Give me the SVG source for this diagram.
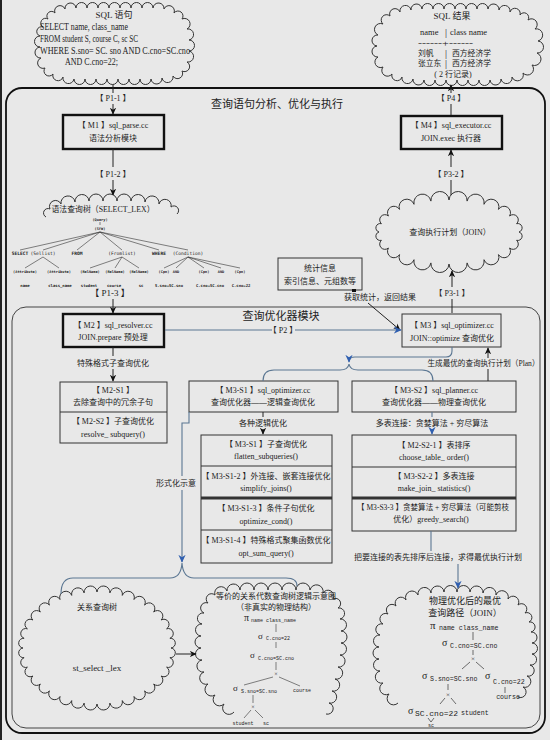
<svg xmlns="http://www.w3.org/2000/svg" width="550" height="740" viewBox="0 0 550 740" font-size="8">
<defs>
<style>
.t{font-family:"Liberation Serif","Noto Sans CJK SC",serif;fill:#222}
.m{text-anchor:middle}
.bx{fill:#e8e8e8;stroke:#333;stroke-width:1}
.bk{fill:#e8e8e8;stroke:#111;stroke-width:2.4}
.cl{fill:#e8e8e8;stroke:#333;stroke-width:1}
.op{fill:none;stroke:#333;stroke-width:1}
.ln{fill:none;stroke:#222;stroke-width:1}
.bl{fill:none;stroke:#5a7692;stroke-width:1.1}
.tk{font-family:"DejaVu Sans Mono",monospace;font-weight:bold;fill:#222;text-anchor:middle}
.sg{font-family:"Liberation Serif",serif;fill:#222}
.sb{font-family:"Liberation Mono",monospace;fill:#222}
</style>
<marker id="ak" viewBox="0 0 10 10" refX="9" refY="5" markerWidth="7" markerHeight="7" markerUnits="userSpaceOnUse" orient="auto"><path d="M0 0.5L10 5L0 9.5L3 5Z" fill="#111"/></marker>
<marker id="ab" viewBox="0 0 10 10" refX="9" refY="5" markerWidth="8" markerHeight="8" markerUnits="userSpaceOnUse" orient="auto"><path d="M0 0.5L10 5L0 9.5L3 5Z" fill="#2f5fb0"/></marker>
</defs>
<rect x="0" y="0" width="550" height="740" fill="#e8e8e8"/>
<line x1="1" y1="0" x2="1" y2="740" stroke="#222" stroke-width="2"/>

<g id="main-frame">
<rect x="6" y="88" width="539" height="645" rx="16" fill="none" stroke="#111" stroke-width="1.8"/>
<text class="t m" x="277" y="108" font-size="11">查询语句分析、优化与执行</text>
</g>

<g id="optimizer-frame">
<rect x="12" y="307" width="528" height="421" rx="14" fill="none" stroke="#444" stroke-width="1"/>
<text class="t m" x="281" y="320" font-size="11">查询优化器模块</text>
</g>

<g id="sql-input">
<path class="cl" d="M48 19A1 1 0 0 1 55 13A1 1 0 0 1 65 9A1 1 0 0 1 76 8A1 1 0 0 1 87 8A1 1 0 0 1 98 8A1 1 0 0 1 109 8A1 1 0 0 1 120 8A1 1 0 0 1 131 8A1 1 0 0 1 142 8A1 1 0 0 1 153 8A1 1 0 0 1 164 9A1 1 0 0 1 174 13A1 1 0 0 1 182 19A1 1 0 0 1 187 29A1 1 0 0 1 189 40A1 1 0 0 1 189 51A1 1 0 0 1 187 62A1 1 0 0 1 182 71A1 1 0 0 1 173 76A1 1 0 0 1 162 78A1 1 0 0 1 151 79A1 1 0 0 1 140 79A1 1 0 0 1 129 79A1 1 0 0 1 118 79A1 1 0 0 1 107 79A1 1 0 0 1 96 79A1 1 0 0 1 85 79A1 1 0 0 1 74 79A1 1 0 0 1 63 77A1 1 0 0 1 53 74A1 1 0 0 1 45 68A1 1 0 0 1 41 58A1 1 0 0 1 40 47A1 1 0 0 1 40 36A1 1 0 0 1 43 27A1 1 0 0 1 48 19Z"/>
<text class="t m" x="114" y="18" font-size="9">SQL 语句</text>
<text class="t" x="40" y="30" font-size="9.5" textLength="88" lengthAdjust="spacingAndGlyphs">SELECT name, class_name</text>
<text class="t" x="40" y="42" font-size="9.5" textLength="98" lengthAdjust="spacingAndGlyphs">FROM student S, course C, sc SC</text>
<text class="t" x="40" y="54" font-size="9.5" textLength="150" lengthAdjust="spacingAndGlyphs">WHERE S.sno= SC. sno AND C.cno=SC.cno</text>
<text class="t" x="65" y="65" font-size="9.5" textLength="53" lengthAdjust="spacingAndGlyphs">AND C.cno=22;</text>
</g>

<g id="sql-result">
<path class="cl" d="M390 16A1 1 0 0 1 400 12A1 1 0 0 1 411 10A1 1 0 0 1 422 9A1 1 0 0 1 433 9A1 1 0 0 1 444 9A1 1 0 0 1 455 9A1 1 0 0 1 466 9A1 1 0 0 1 477 9A1 1 0 0 1 488 9A1 1 0 0 1 499 10A1 1 0 0 1 510 12A1 1 0 0 1 520 15A1 1 0 0 1 528 20A1 1 0 0 1 535 29A1 1 0 0 1 538 41A1 1 0 0 1 537 53A1 1 0 0 1 532 65A1 1 0 0 1 523 73A1 1 0 0 1 512 77A1 1 0 0 1 501 79A1 1 0 0 1 490 80A1 1 0 0 1 479 80A1 1 0 0 1 468 80A1 1 0 0 1 457 80A1 1 0 0 1 446 80A1 1 0 0 1 435 80A1 1 0 0 1 424 80A1 1 0 0 1 413 79A1 1 0 0 1 402 77A1 1 0 0 1 392 74A1 1 0 0 1 383 67A1 1 0 0 1 378 57A1 1 0 0 1 377 46A1 1 0 0 1 378 35A1 1 0 0 1 383 24A1 1 0 0 1 390 16Z"/>
<text class="t m" x="452" y="19" font-size="9">SQL 结果</text>
<text class="t" x="420" y="35" font-size="8.5">name</text>
<text class="t" x="445" y="36" font-size="10">|</text>
<text class="t" x="450" y="35" font-size="8.5">class  name</text>
<text class="t" x="418" y="46" font-size="8.5" textLength="55" lengthAdjust="spacingAndGlyphs">------+------</text>
<text class="t" x="418" y="56" font-size="7.8">刘帆</text>
<text class="t" x="445" y="57" font-size="10">|</text>
<text class="t" x="452" y="56" font-size="7.8">西方经济学</text>
<text class="t" x="418" y="66" font-size="7.8">张立东</text>
<text class="t" x="445" y="67" font-size="10">|</text>
<text class="t" x="452" y="66" font-size="7.8">西方经济学</text>
<text class="t m" x="453" y="77" font-size="8">( 2 行记录)</text>
</g>

<g id="m1">
<rect class="bk" x="63" y="115" width="101" height="34"/>
<text class="t m" x="113" y="128">【 M1 】sql_parse.cc</text>
<text class="t m" x="113" y="141">语法分析模块</text>
</g>

<g id="m4">
<rect class="bk" x="401" y="116" width="101" height="33"/>
<text class="t m" x="451" y="128">【 M4 】sql_executor.cc</text>
<text class="t m" x="451" y="141">JOIN.exec 执行器</text>
</g>

<g id="parse-tree">
<path class="op" d="M46 217A1 1 0 0 1 50 209A1 1 0 0 1 61 204A1 1 0 0 1 75 202A1 1 0 0 1 89 201A1 1 0 0 1 103 201A1 1 0 0 1 117 201A1 1 0 0 1 131 201A1 1 0 0 1 145 202A1 1 0 0 1 159 204A1 1 0 0 1 171 207A1 1 0 0 1 177 214"/>
<text class="t m" x="103" y="212" font-size="8.5" textLength="103" lengthAdjust="spacingAndGlyphs">语法查询树（SELECT_LEX）</text>
<g stroke="#333" stroke-width="0.6" fill="none">
<path d="M100 222V225"/>
<path d="M100 232L20 250M100 232L43 250M100 232L77 250M100 232L122 250M100 232L159 250M100 232L188 250"/>
<path d="M43 257L25 268M43 257L59 268M122 257L90 268M122 257L115 268M122 257L139 268M188 257L164 268M188 257L176 268M188 257L204 268M188 257L221 268M188 257L240 268"/>
</g>
<g class="tk" font-size="3.6" font-weight="normal">
<text x="100" y="221">(Query)</text>
<text x="100" y="230">(SFW)</text>
<text x="25" y="273">(Attribute)</text>
<text x="59" y="273">(Attribute)</text>
<text x="90" y="273">(RelName)</text>
<text x="115" y="273">(RelName)</text>
<text x="139" y="273">(RelName)</text>
<text x="164" y="273">(Cpn)</text>
<text x="176" y="273">AND</text>
<text x="204" y="273">(Cpn)</text>
<text x="221" y="273">AND</text>
<text x="240" y="273">(Cpn)</text>
</g>
<g class="tk" font-size="4.6">
<text x="20" y="255">SELECT</text>
<text x="43" y="255" font-weight="normal">(Sellist)</text>
<text x="77" y="255">FROM</text>
<text x="122" y="255" font-weight="normal">(Fromlist)</text>
<text x="159" y="255">WHERE</text>
<text x="188" y="255" font-weight="normal">(Condition)</text>
</g>
<g class="tk" font-size="3.9">
<text x="25" y="287">name</text>
<text x="60" y="287">class_name</text>
<text x="89" y="287">student</text>
<text x="114" y="287">course</text>
<text x="141" y="287">sc</text>
<text x="169" y="287">S.sno=SC.sno</text>
<text x="210" y="287">C.cno=SC.cno</text>
<text x="241" y="287">C.cno=22</text>
</g>
</g>

<g id="plan-cloud">
<path class="cl" d="M519 232A1 1 0 0 1 516.6 240.3A1 1 0 0 1 509.6 248A1 1 0 0 1 498.5 254.6A1 1 0 0 1 484 259.7A1 1 0 0 1 467.1 262.9A1 1 0 0 1 449 264A1 1 0 0 1 430.9 262.9A1 1 0 0 1 414 259.7A1 1 0 0 1 399.5 254.6A1 1 0 0 1 388.4 248A1 1 0 0 1 381.4 240.3A1 1 0 0 1 379 232A1 1 0 0 1 381.4 223.7A1 1 0 0 1 388.4 216A1 1 0 0 1 399.5 209.4A1 1 0 0 1 414 204.3A1 1 0 0 1 430.9 201.1A1 1 0 0 1 449 200A1 1 0 0 1 467.1 201.1A1 1 0 0 1 484 204.3A1 1 0 0 1 498.5 209.4A1 1 0 0 1 509.6 216A1 1 0 0 1 516.6 223.7A1 1 0 0 1 519 232Z"/>
<text class="t m" x="450" y="235">查询执行计划（JOIN）</text>
</g>

<g id="stats">
<rect class="bx" x="278" y="258" width="84" height="32"/>
<text class="t m" x="320" y="271">统计信息</text>
<text class="t m" x="320" y="284">索引信息、元组数等</text>
</g>

<g id="m2">
<rect class="bk" x="63" y="314" width="101" height="33"/>
<text class="t m" x="113" y="328">【 M2 】sql_resolver.cc</text>
<text class="t m" x="113" y="340">JOIN.prepare 预处理</text>
</g>

<g id="m3">
<rect class="bx" x="402" y="314" width="99" height="33" stroke-width="1.3"/>
<text class="t m" x="452" y="328">【 M3 】sql_optimizer.cc</text>
<text class="t m" x="452" y="341">JOIN::optimize 查询优化</text>
</g>

<g id="m2-s">
<rect class="bx" x="60" y="382" width="107" height="61"/>
<line x1="60" y1="412" x2="167" y2="412" stroke="#333"/>
<text class="t m" x="113" y="393">【 M2-S1 】</text>
<text class="t m" x="113" y="405">去除查询中的冗余子句</text>
<text class="t m" x="113" y="424">【 M2-S2 】子查询优化</text>
<text class="t m" x="113" y="437">resolve_ subquery()</text>
</g>

<g id="m3-s1">
<rect class="bx" x="189" y="381" width="149" height="31"/>
<text class="t m" x="263" y="393">【 M3-S1 】sql_optimizer.cc</text>
<text class="t m" x="263" y="405">查询优化器——逻辑查询优化</text>
</g>

<g id="m3-s2">
<rect class="bx" x="352" y="381" width="164" height="31"/>
<text class="t m" x="434" y="393">【 M3-S2 】sql_planner.cc</text>
<text class="t m" x="434" y="405">查询优化器——物理查询优化</text>
</g>

<g id="m3-s1-list">
<rect class="bx" x="201" y="435" width="131" height="128"/>
<line x1="201" y1="466" x2="332" y2="466" stroke="#333"/>
<rect x="201" y="496.5" width="131" height="3" fill="#333"/>
<line x1="201" y1="530" x2="332" y2="530" stroke="#333"/>
<text class="t m" x="266" y="447">【 M3-S1 】子查询优化</text>
<text class="t m" x="266" y="459">flatten_subqueries()</text>
<text class="t m" x="266" y="479">【 M3-S1-2 】外连接、嵌套连接优化</text>
<text class="t m" x="266" y="491">simplify_joins()</text>
<text class="t m" x="266" y="511">【 M3-S1-3 】条件子句优化</text>
<text class="t m" x="266" y="524">optimize_cond()</text>
<text class="t m" x="266" y="543">【 M3-S1-4 】特殊格式聚集函数优化</text>
<text class="t m" x="266" y="556">opt_sum_query()</text>
</g>

<g id="m3-s2-list">
<rect class="bx" x="352" y="435" width="164" height="96"/>
<line x1="352" y1="467" x2="516" y2="467" stroke="#333"/>
<rect x="352" y="496.5" width="164" height="3" fill="#333"/>
<text class="t m" x="434" y="448">【 M2-S2-1 】表排序</text>
<text class="t m" x="434" y="460">choose_table_ order()</text>
<text class="t m" x="434" y="479">【 M3-S2-2 】多表连接</text>
<text class="t m" x="434" y="491">make_join_ statistics()</text>
<text class="t m" x="433" y="510" textLength="152" lengthAdjust="spacingAndGlyphs">【 M3-S3-3 】贪婪算法 + 穷尽算法（可能剪枝</text>
<text class="t m" x="431" y="522">优化）greedy_search()</text>
</g>

<g id="rel-tree">
<path class="cl" d="M171 648A1 1 0 0 1 169.9 657.7A1 1 0 0 1 166.6 667.2A1 1 0 0 1 161.1 676A1 1 0 0 1 153.7 684A1 1 0 0 1 144.6 690.9A1 1 0 0 1 134 696.5A1 1 0 0 1 122.3 700.6A1 1 0 0 1 109.9 703.1A1 1 0 0 1 97 704A1 1 0 0 1 84.1 703.1A1 1 0 0 1 71.7 700.6A1 1 0 0 1 60 696.5A1 1 0 0 1 49.4 690.9A1 1 0 0 1 40.3 684A1 1 0 0 1 32.9 676A1 1 0 0 1 27.4 667.2A1 1 0 0 1 24.1 657.7A1 1 0 0 1 23 648A1 1 0 0 1 24.1 638.3A1 1 0 0 1 27.4 628.8A1 1 0 0 1 32.9 620A1 1 0 0 1 40.3 612A1 1 0 0 1 49.4 605.1A1 1 0 0 1 60 599.5A1 1 0 0 1 71.7 595.4A1 1 0 0 1 84.1 592.9A1 1 0 0 1 97 592A1 1 0 0 1 109.9 592.9A1 1 0 0 1 122.3 595.4A1 1 0 0 1 134 599.5A1 1 0 0 1 144.6 605.1A1 1 0 0 1 153.7 612A1 1 0 0 1 161.1 620A1 1 0 0 1 166.6 628.8A1 1 0 0 1 169.9 638.3A1 1 0 0 1 171 648Z"/>
<text class="t m" x="97" y="610">关系查询树</text>
<text class="t m" x="97" y="671" font-size="9">st_select _lex</text>
</g>

<g id="logic-tree">
<path class="op" d="M234 712A1 1 0 0 1 224 704A1 1 0 0 1 215 695A1 1 0 0 1 208 684A1 1 0 0 1 204 672A1 1 0 0 1 202 660A1 1 0 0 1 201 648A1 1 0 0 1 201 636A1 1 0 0 1 202 624A1 1 0 0 1 204 613A1 1 0 0 1 208 603A1 1 0 0 1 215 595A1 1 0 0 1 227 591A1 1 0 0 1 240 590A1 1 0 0 1 254 590A1 1 0 0 1 268 590A1 1 0 0 1 282 590A1 1 0 0 1 296 590A1 1 0 0 1 310 590A1 1 0 0 1 323 593A1 1 0 0 1 333 599A1 1 0 0 1 338 608A1 1 0 0 1 340 619A1 1 0 0 1 341 631A1 1 0 0 1 341 643A1 1 0 0 1 340 655A1 1 0 0 1 338 667A1 1 0 0 1 335 679A1 1 0 0 1 332 691A1 1 0 0 1 329 703A1 1 0 0 1 326 714"/>
<text class="t m" x="276" y="599">等价的关系代数查询树逻辑示意图</text>
<text class="t m" x="276" y="610">（非真实的物理结构）</text>
<text class="sg" x="244" y="621" font-size="10">π</text>
<text class="sb" x="251" y="622" font-size="5">name class_name</text>
<text class="sg" x="258" y="639" font-size="9">σ</text>
<text class="sb" x="266" y="640" font-size="5">C.cno=22</text>
<text class="sg" x="250" y="658" font-size="9">σ</text>
<text class="sb" x="258" y="660" font-size="5">C.cno=SC.cno</text>
<text class="sg m" x="276" y="676" font-size="6">×</text>
<text class="sg" x="233" y="691" font-size="9">σ</text>
<text class="sb" x="241" y="693" font-size="5">S.sno=SC.sno</text>
<text class="sb m" x="302" y="692" font-size="5">course</text>
<text class="sg m" x="253" y="709" font-size="6">×</text>
<text class="sb m" x="243" y="725" font-size="5">student</text>
<text class="sb m" x="266" y="725" font-size="5">sc</text>
<path stroke="#333" stroke-width="0.6" fill="none" d="M276 624V632M276 642V648M276 662V670M273 677L244 685M279 677L300 686M253 695V703M251 710L244 718M255 710L263 718"/>
</g>

<g id="phys-tree">
<path class="op" d="M398 703A1 1 0 0 1 389 694A1 1 0 0 1 383 683A1 1 0 0 1 380 671A1 1 0 0 1 379 659A1 1 0 0 1 379 647A1 1 0 0 1 380 635A1 1 0 0 1 383 624A1 1 0 0 1 388 614A1 1 0 0 1 396 606A1 1 0 0 1 406 600A1 1 0 0 1 418 595A1 1 0 0 1 431 593A1 1 0 0 1 444 592A1 1 0 0 1 457 592A1 1 0 0 1 470 592A1 1 0 0 1 483 593A1 1 0 0 1 496 595A1 1 0 0 1 508 599A1 1 0 0 1 518 605A1 1 0 0 1 525 613A1 1 0 0 1 529 622A1 1 0 0 1 531 632A1 1 0 0 1 532 643A1 1 0 0 1 532 654A1 1 0 0 1 530 665A1 1 0 0 1 527 676A1 1 0 0 1 523 687A1 1 0 0 1 518 697"/>
<text class="t m" x="465" y="604" font-size="9">物理优化后的最优</text>
<text class="t m" x="465" y="616" font-size="9">查询路径（JOIN）</text>
<text class="sg" x="430" y="629" font-size="11">π</text>
<text class="sb" x="439" y="630" font-size="6.6">name class_name</text>
<text class="sg" x="442" y="646" font-size="10">σ</text>
<text class="sb" x="450" y="648" font-size="6.6">C.cno=SC.cno</text>
<text class="sg m" x="473" y="661" font-size="7">×</text>
<text class="sg" x="422" y="679" font-size="10">σ</text>
<text class="sb" x="430" y="681" font-size="6.6">S.sno=SC.sno</text>
<text class="sg" x="485" y="679" font-size="10">σ</text>
<text class="sb" x="493" y="684" font-size="6.6">C.cno=22</text>
<text class="sg m" x="448" y="697" font-size="7">×</text>
<text class="sb m" x="508" y="699" font-size="6.6">course</text>
<text class="sg" x="408" y="714" font-size="10">σ</text>
<text class="sb" x="415" y="716" font-size="6.6" textLength="43" lengthAdjust="spacingAndGlyphs">SC.cno=22</text>
<text class="sb" x="461" y="715" font-size="6.6">student</text>
<text class="sb m" x="431" y="727" font-size="5">sc</text>
<path stroke="#333" stroke-width="0.7" fill="none" d="M473 632V640M473 650V655M470 662L462 669M476 662L484 669M448 684V690M445 698L440 704M451 698L456 704M505 687V693M428 718L431 722L434 718"/>
</g>

<g id="connectors">
<path class="ln" d="M113 84.5V93"/>
<path class="ln" d="M113 104V114" marker-end="url(#ak)"/>
<text class="t m" x="113" y="101">【 P1-1 】</text>
<path class="ln" d="M113 149V167"/>
<path class="ln" d="M113 180V195" marker-end="url(#ak)"/>
<text class="t m" x="113" y="177">【 P1-2 】</text>
<text class="t m" x="110" y="296" font-size="9">【 P1-3 】</text>
<path class="ln" d="M113 299V313" marker-end="url(#ak)"/>
<path class="ln" d="M451 115V104"/>
<path class="ln" d="M451 93V85" marker-end="url(#ak)"/>
<text class="t m" x="451" y="101">【 P4 】</text>
<path class="ln" d="M451 195V180"/>
<path class="ln" d="M451 167V150" marker-end="url(#ak)"/>
<text class="t m" x="451" y="177">【 P3-2 】</text>
<path class="ln" d="M452 313V299"/>
<path class="ln" d="M452 287V271" marker-end="url(#ak)"/>
<text class="t m" x="452" y="296">【 P3-1 】</text>
<rect x="352" y="289" width="4" height="3" fill="#111"/>
<text class="t m" x="380" y="300">获取统计，返回结果</text>
<path class="ln" d="M368 303L400 330" marker-end="url(#ak)"/>
<path class="bl" d="M165 330H272"/>
<text class="t m" x="283" y="333">【 P2 】</text>
<path class="bl" d="M295 330H401" marker-end="url(#ab)"/>
<path class="ln" d="M488 381V369"/>
<path class="ln" d="M488 358V348" marker-end="url(#ak)"/>
<text class="t m" x="483.5" y="366" textLength="112" lengthAdjust="spacingAndGlyphs">生成最优的查询执行计划（Plan）</text>
<path class="bl" d="M452 347V351Q452 357 446 357H355Q349 357 349 362" marker-end="url(#ab)"/>
<path class="bl" d="M263 381Q263 370 274 370H340Q348 370 349 364Q350 370 358 370H422Q433 370 433 381"/>
<path class="ln" d="M113 347V356"/>
<text class="t m" x="113" y="366">特殊格式子查询优化</text>
<path class="ln" d="M113 369V381" marker-end="url(#ak)"/>
<path class="ln" d="M263 412V417"/>
<text class="t m" x="263" y="426">各种逻辑优化</text>
<path class="ln" d="M263 429V434" marker-end="url(#ak)"/>
<path class="bl" d="M432 412V417"/>
<text class="t m" x="432" y="426">多表连接：贪婪算法 + 穷尽算法</text>
<path class="bl" d="M432 429V434" marker-end="url(#ab)"/>
<path class="bl" d="M431 531V551"/>
<text class="t m" x="438" y="560">把要连接的表先排序后连接，求得最优执行计划</text>
<path class="bl" d="M458 564V588" marker-end="url(#ab)"/>
<path class="bl" d="M189 412V423H182V476"/>
<text class="t m" x="176" y="486">形式化示意</text>
<path class="bl" d="M182 490V562" marker-end="url(#ab)"/>
<path class="bl" d="M61 594Q61 578 73 578H170Q181 578 182 563Q183 578 194 578H286Q297 578 297 586"/>
<path class="ln" d="M176 654H196" marker-end="url(#ak)"/>
</g>
</svg>
